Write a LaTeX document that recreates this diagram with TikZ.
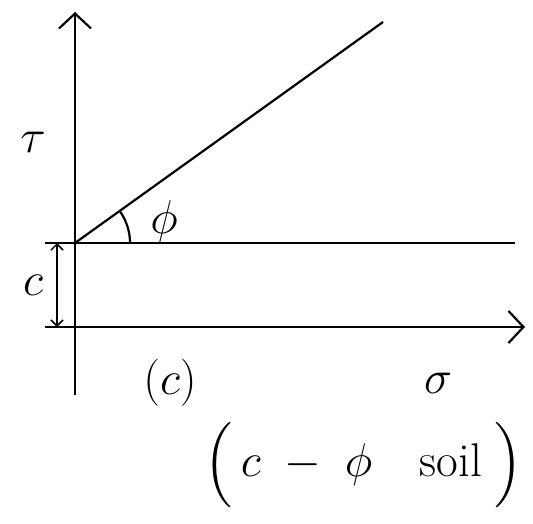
\documentclass[tikz,border=0pt]{standalone}
\usepackage{amsmath,amssymb}
\usetikzlibrary{arrows.meta}
\tikzset{
  axisline/.style={line width=2.2pt, -{Straight Barb[length=15pt,width=32pt]}},
  sketchline/.style={line width=2.2pt},
  biglabel/.style={font=\Huge, scale=1.9},
}
\begin{document}
\begin{tikzpicture}[x=1pt, y=-1pt]
  \useasboundingbox (0,0) rectangle (533,524);
  % axes
  \coordinate (yb) at (75,395);
  \coordinate (yt) at (75,12);
  \coordinate (xl) at (45,327);
  \coordinate (xr) at (525,327);
  \draw[axisline] (yb) -- (yt);
  \draw[axisline] (xl) -- (xr);
  % cohesion intercept and envelope
  \coordinate (O) at (75,243);
  \coordinate (cl) at (45,243);
  \coordinate (cr) at (515,243);
  \coordinate (env) at (383,22);
  \draw[sketchline] (cl) -- (cr);
  \draw[sketchline] (O) -- (env);
  \draw[sketchline] ([xshift=55pt]O) arc[start angle=0, end angle=35.7, radius=55pt];
  \node[biglabel] (phi) at (164,222) {$\phi$};
  % cohesion arrow
  \coordinate (ct) at (57,243);
  \coordinate (cb) at (57,327);
  \draw[line width=1.5pt, {Straight Barb[length=6pt,width=12pt]}-{Straight Barb[length=6pt,width=12pt]}] (ct) -- (cb);
  \node[biglabel] (clab) at (33,285) {$c$};
  % labels
  \node[biglabel] (tau) at (33,142) {$\tau$};
  \node[biglabel] (part) at (170,383) {$(c)$};
  \node[biglabel] (sigma) at (438,383) {$\sigma$};
  \node[biglabel] (soil) at (364,465) {$\Bigl(\,c\;-\;\phi\quad\text{soil}\;\Bigr)$};
\end{tikzpicture}
\end{document}
